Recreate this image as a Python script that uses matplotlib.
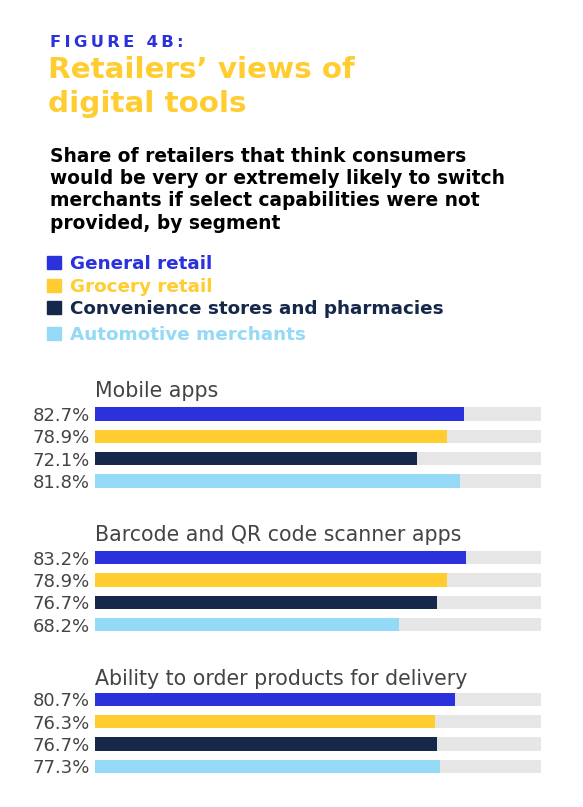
import numpy as np
import matplotlib
matplotlib.use("Agg")
import matplotlib.pyplot as plt

# ==== Data ====
segments = ["General retail", "Grocery retail",
            "Convenience stores and pharmacies", "Automotive merchants"]
seg_colors = ["#2B32DC", "#FFCD2F", "#16284A", "#94D9F5"]

groups = ["Mobile apps", "Barcode and QR code scanner apps",
          "Ability to order products for delivery"]
mobile_apps = [82.7, 78.9, 72.1, 81.8]
barcode_qr = [83.2, 78.9, 76.7, 68.2]
order_delivery = [80.7, 76.3, 76.7, 77.3]
group_values = [mobile_apps, barcode_qr, order_delivery]

# ==== Figure setup (pixel helpers) ====
W, H = 583, 807
fig = plt.figure(figsize=(W / 100, H / 100), dpi=100)
fig.patch.set_facecolor("white")


def fx(x):
    return x / W


def fy(y):
    return 1 - y / H


HEAD = ["DejaVu Sans"]
BODY = ["DejaVu Sans"]

# ==== Header ====
thin = "\u2009"
fig.text(fx(50), fy(47.3), thin.join("FIGURE 4B:"),
         color="#2B32DC", fontsize=11.8, fontweight="bold", family=HEAD,
         va="baseline")
fig.text(fx(48), fy(78.3), "Retailers\u2019 views of", color="#FFCD2F",
         fontsize=21.2, fontweight="bold", family=HEAD, va="baseline")
fig.text(fx(48), fy(111.7), "digital tools", color="#FFCD2F",
         fontsize=21.2, fontweight="bold", family=HEAD, va="baseline")

subtitle = ["Share of retailers that think consumers",
            "would be very or extremely likely to switch",
            "merchants if select capabilities were not",
            "provided, by segment"]
for i, line in enumerate(subtitle):
    fig.text(fx(50), fy(161.7 + i * 22.3), line, color="black",
             fontsize=13.4, fontweight="bold", family=HEAD, va="baseline")

# ==== Legend ====
legend_baselines = [269, 291.7, 314.3, 340]
for name, col, yb in zip(segments, seg_colors, legend_baselines):
    fig.patches.append(plt.Rectangle((fx(47), fy(yb)), 14 / W, 13 / H,
                                     transform=fig.transFigure,
                                     color=col, zorder=3))
    fig.text(fx(70), fy(yb), name, color=col, fontsize=13.2,
             fontweight="bold", family=HEAD, va="baseline")

# ==== Bar groups ====
row_centers = [[414, 436.7, 458.7, 481],
               [557.7, 579.7, 602.3, 624.7],
               [699.3, 721.7, 744, 766.3]]
title_baselines = [396.7, 540.7, 685]
x0, x1 = 95, 541

for title, vals, centers, tb in zip(groups, group_values, row_centers,
                                    title_baselines):
    pitch = (centers[-1] - centers[0]) / 3
    top = centers[0] - pitch / 2
    bottom = centers[-1] + pitch / 2
    ax = fig.add_axes([fx(x0), fy(bottom), (x1 - x0) / W, (bottom - top) / H])
    ypos = np.arange(len(vals))
    bh = 13.5 / pitch
    ax.barh(ypos, [100] * len(vals), height=bh, color="#E6E6E6", zorder=1)
    ax.barh(ypos, vals, height=bh, color=seg_colors, zorder=2)
    ax.set_xlim(0, 100)
    ax.set_ylim(3.5, -0.5)
    ax.set_yticks(ypos)
    ax.set_yticklabels([f"{v:.1f}%" for v in vals], fontsize=13,
                       color="#444444", family=BODY)
    ax.tick_params(axis="y", length=0, pad=3.5)
    ax.set_xticks([])
    for s in ax.spines.values():
        s.set_visible(False)
    fig.text(fx(95), fy(tb), title, color="#444444", fontsize=14.8,
             family=BODY, va="baseline")

plt.savefig("out.png", dpi=100, facecolor="white")
